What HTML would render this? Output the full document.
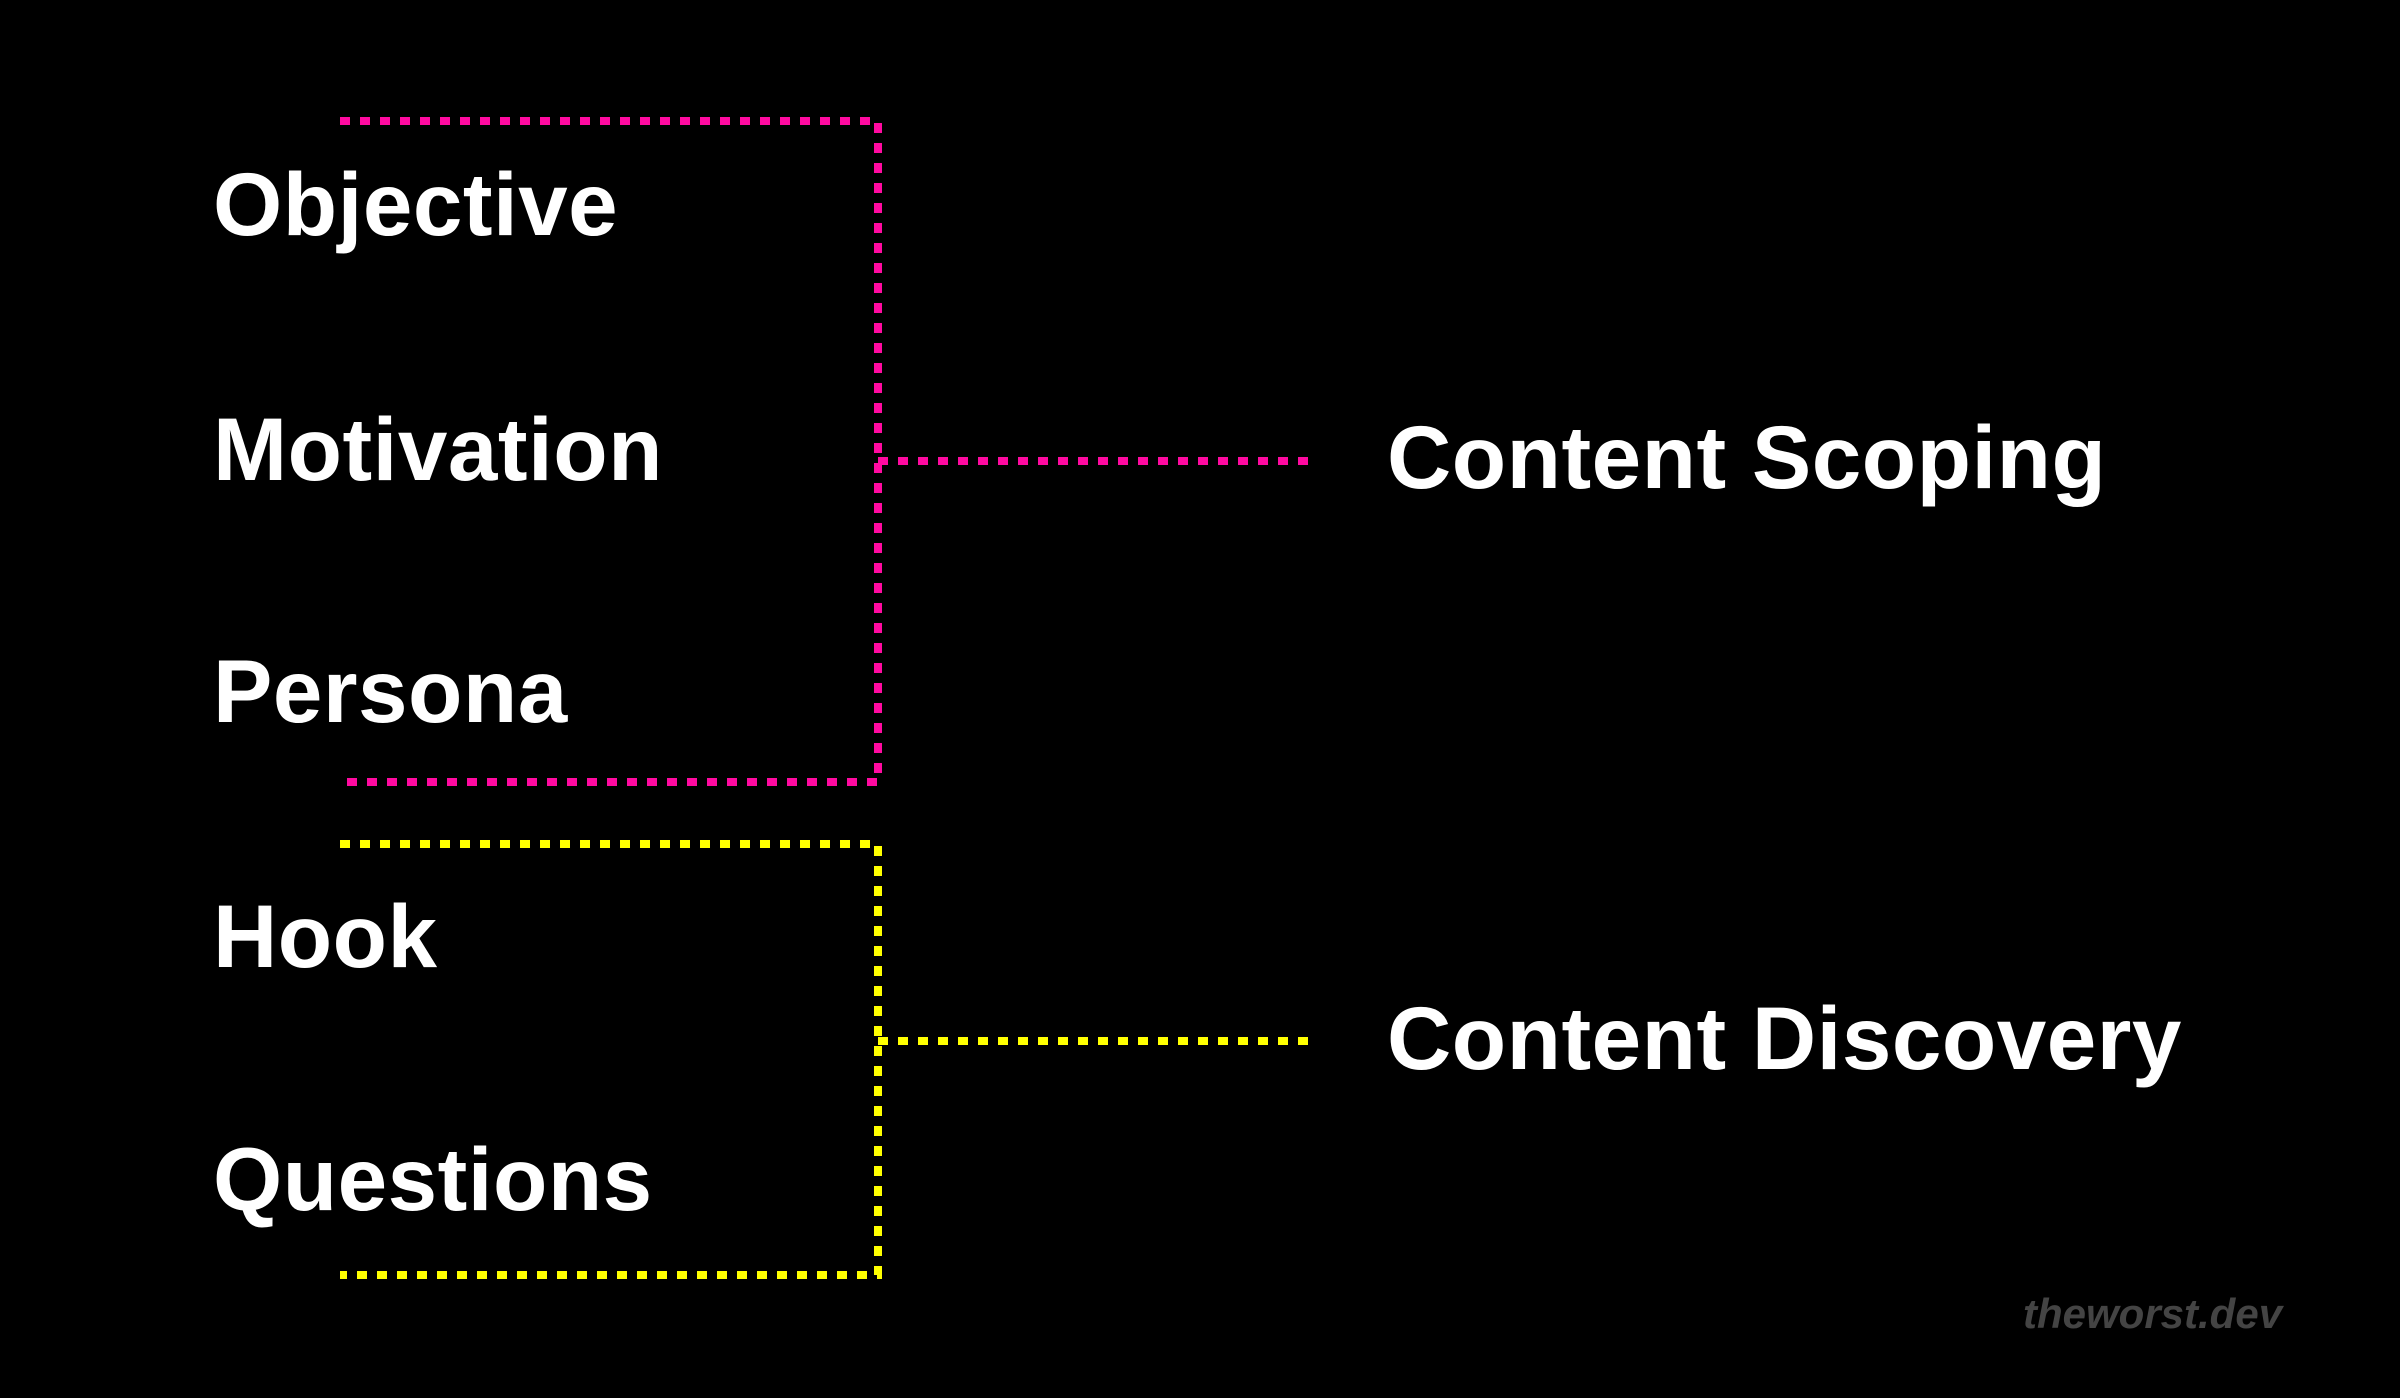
<!DOCTYPE html>
<html><head><meta charset="utf-8"><style>
html,body{margin:0;padding:0;background:#000;}
svg{display:block}
text{font-family:"Liberation Sans",sans-serif;font-weight:bold;fill:#fff;}
</style></head><body>
<svg width="2400" height="1398" viewBox="0 0 2400 1398" xmlns="http://www.w3.org/2000/svg">
<rect width="2400" height="1398" fill="#000"/>
<g fill="none" stroke-width="8" stroke-dasharray="10 10">
<path d="M340 121 H878 V782 H340" stroke="#ff0aa0"/>
<path d="M878 461 H1309" stroke="#ff0aa0"/>
<path d="M340 844 H878 V1275 H340" stroke="#ffff00"/>
<path d="M878 1041 H1309" stroke="#ffff00"/>
</g>
<g font-size="89" letter-spacing="0.5">
<text x="213" y="235">Objective</text>
<text x="213" y="480">Motivation</text>
<text x="213" y="722">Persona</text>
<text x="213" y="967">Hook</text>
<text x="213" y="1210">Questions</text>
<text x="1387" y="488">Content Scoping</text>
<text x="1387" y="1069">Content Discovery</text>
</g>
<text x="2023" y="1328" font-size="42" font-style="italic" style="fill:#444;font-weight:bold">theworst.dev</text>
</svg>
</body></html>
